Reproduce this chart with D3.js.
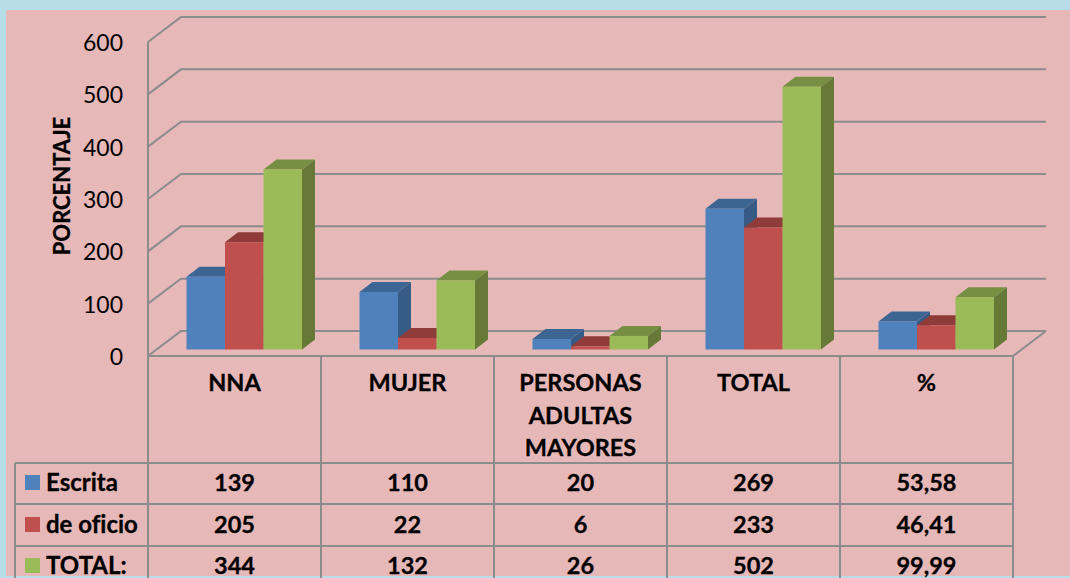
<!DOCTYPE html>
<html>
<head>
<meta charset="utf-8">
<script src="https://cdn.jsdelivr.net/npm/d3@7"></script>
<style>
  html, body { margin: 0; padding: 0; background: #b7dee8; overflow: hidden; }
  text { font-family: Lato, "Open Sans", sans-serif; fill: #000; font-variant-ligatures: none; }
  .tick-label { font-size: 23px; }
  .cell { font-size: 23.5px; font-weight: 700; text-anchor: middle; stroke: #000; stroke-width: 0.3px; }
  .row-label { font-size: 24px; font-weight: 700; stroke: #000; stroke-width: 0.3px; }
  .axis-title { font-size: 22px; font-weight: 700; text-anchor: middle; stroke: #000; stroke-width: 0.3px; }
</style>
</head>
<body>
<svg id="chart" width="1070" height="578"></svg>
<script>
var categories = [["NNA"], ["MUJER"], ["PERSONAS", "ADULTAS", "MAYORES"], ["TOTAL"], ["%"]];
var seriesNames = ["Escrita", "de oficio", "TOTAL:"];
var escrita = [139, 110, 20, 269, 53.58];
var deOficio = [205, 22, 6, 233, 46.41];
var totals = [344, 132, 26, 502, 99.99];
var tableEscrita = ["139", "110", "20", "269", "53,58"];
var tableOficio = ["205", "22", "6", "233", "46,41"];
var tableTotal = ["344", "132", "26", "502", "99,99"];
var yTicks = [0, 100, 200, 300, 400, 500, 600];

var colors = ["#4f81bd", "#c0504d", "#9bbb59"];
var topColors = ["#3d6593", "#8f3b39", "#768f43"];
var sideColors = ["#375b87", "#833633", "#667a38"];
var gridColor = "#8c8c8c";

var series = [escrita, deOficio, totals];
var rows = [tableEscrita, tableOficio, tableTotal];

var wall = { dx: 33, dy: -25 };
var depth = { dx: 13, dy: -10 };
var barBase = 349.5;

var svg = d3.select("#chart");

svg.append("rect")
  .attr("x", 6).attr("y", 10)
  .attr("width", 1064).attr("height", 566)
  .attr("fill", "#e6b8b7");

var x = d3.scaleBand()
  .domain(d3.range(categories.length))
  .range([148, 1013]);

var y = d3.scaleLinear()
  .domain([0, 600])
  .range([356, 42]);

// bars sit a bit inside the floor
var xBar = d3.scaleBand()
  .domain(d3.range(series.length))
  .range([38.5, 154]);

var h = v => y(0) - y(v);

// walls and floor
var grid = svg.append("g")
  .attr("fill", "none")
  .attr("stroke", gridColor)
  .attr("stroke-width", 2);

grid.selectAll("path.gridline")
  .data(yTicks)
  .join("path")
  .attr("class", "gridline")
  .attr("d", d => "M" + x.range()[0] + "," + y(d)
    + "L" + (x.range()[0] + wall.dx) + "," + (y(d) + wall.dy)
    + "L" + (x.range()[1] + wall.dx) + "," + (y(d) + wall.dy));

grid.append("path")
  .attr("d", "M" + x.range()[0] + "," + y(600) + "V" + y(0));

grid.append("path")
  .attr("d", "M" + x.range()[1] + "," + y(0)
    + "L" + (x.range()[1] + wall.dx) + "," + (y(0) + wall.dy));

// bars
var bars = svg.append("g");

categories.forEach(function(c, i) {
  series.forEach(function(values, s) {
    var x0 = x(i) + xBar(s);
    var w = xBar.bandwidth();
    var top = barBase - h(values[i]);
    var g = bars.append("g");

    g.append("path")
      .attr("fill", sideColors[s])
      .attr("d", "M" + (x0 + w) + "," + top
        + "l" + depth.dx + "," + depth.dy
        + "V" + (barBase + depth.dy)
        + "l" + (-depth.dx) + "," + (-depth.dy) + "Z");

    g.append("path")
      .attr("fill", topColors[s])
      .attr("d", "M" + x0 + "," + top
        + "l" + depth.dx + "," + depth.dy
        + "h" + w
        + "l" + (-depth.dx) + "," + (-depth.dy) + "Z");

    g.append("rect")
      .attr("x", x0)
      .attr("y", top)
      .attr("width", w)
      .attr("height", barBase - top)
      .attr("fill", colors[s]);
  });
});

// y axis labels
var axis = svg.append("g")
  .attr("transform", "translate(123,1)")
  .call(d3.axisLeft(y).tickValues(yTicks).tickSize(0).tickPadding(0));
axis.select(".domain").remove();
axis.selectAll("text")
  .attr("class", "tick-label")
  .attr("font-family", null)
  .attr("font-size", null);

svg.append("text")
  .attr("class", "axis-title")
  .attr("transform", "translate(70,186) rotate(-90)")
  .text("PORCENTAJE");

// data table
var rowLines = [356, 463, 504, 546];
var rowBase = [491, 533, 574];
var table = svg.append("g")
  .attr("stroke", gridColor)
  .attr("stroke-width", 2)
  .attr("fill", "none");

table.append("path").attr("d", "M148," + rowLines[0] + "H1013");
rowLines.slice(1).forEach(function(l) {
  table.append("path").attr("d", "M15," + l + "H1013");
});
table.append("path").attr("d", "M15," + rowLines[1] + "V578");
d3.range(categories.length + 1).forEach(function(i) {
  var px = i < categories.length ? x(i) : x.range()[1];
  table.append("path").attr("d", "M" + px + "," + rowLines[0] + "V578");
});

categories.forEach(function(lines, i) {
  var t = svg.append("text")
    .attr("class", "cell")
    .attr("x", x(i) + x.bandwidth() / 2)
    .attr("y", 391);
  lines.forEach(function(line, j) {
    t.append("tspan")
      .attr("x", x(i) + x.bandwidth() / 2)
      .attr("y", 391 + j * 32.5)
      .text(line);
  });
});

rows.forEach(function(row, r) {
  svg.append("rect")
    .attr("x", 25)
    .attr("y", rowBase[r] - 16)
    .attr("width", 15)
    .attr("height", 15)
    .attr("fill", colors[r]);
  svg.append("text")
    .attr("class", "row-label")
    .attr("x", 46)
    .attr("y", rowBase[r])
    .text(seriesNames[r]);
  row.forEach(function(v, i) {
    svg.append("text")
      .attr("class", "cell")
      .attr("x", x(i) + x.bandwidth() / 2)
      .attr("y", rowBase[r])
      .text(v);
  });
});
</script>
</body>
</html>
